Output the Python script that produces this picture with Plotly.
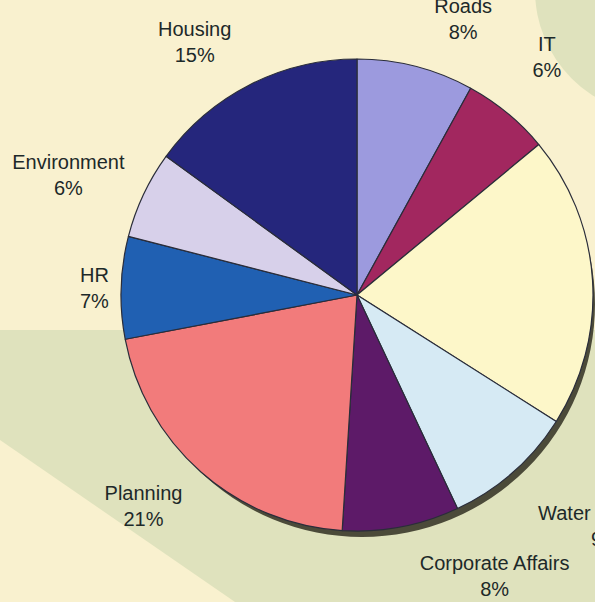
import plotly.graph_objects as go

# ---- data ----
labels = ["Roads", "IT", "Finance", "Water Services", "Corporate Affairs",
          "Planning", "HR", "Environment", "Housing"]
values = [8, 6, 20, 9, 8, 21, 7, 6, 15]
colors = ["#9c9ade", "#a2275f", "#fdf7c9", "#d6eaf4", "#5d1a68",
          "#f27b7b", "#2060b2", "#d7d0ea", "#25267c"]

W, H = 595, 602
CREAM = "#f9f1cf"
GREEN = "#dfe2bd"

# label layout: labels above the pie get trailing blank lines, labels below
# leading ones, so they sit a little further from the rim; the Finance label
# lies outside the visible frame in the reference
BASE = "%{label}<br>%{value}%"
UP = BASE + "<br> "
UP2 = BASE + "<br> <br> "
DOWN = " <br>" + BASE
DOWN2 = " <br> <br>" + BASE
templates = [UP, UP2, "", DOWN2, DOWN, DOWN, BASE, UP, UP]
# labels are split over two text layers so neighbouring labels are not shifted
groups = [0, 1, 0, 0, 1, 0, 1, 0, 1]

MAIN_DOMAIN = dict(x=[121 / W, 593 / W], y=[0.1179, 0.9020])


def px(x, y):
    """pixel (from top-left) -> paper coords"""
    return x / W, 1 - y / H


def path(points):
    s = ""
    for i, (x, y) in enumerate(points):
        a, b = px(x, y)
        s += ("M" if i == 0 else "L") + f" {a:.4f},{b:.4f} "
    return s + "Z"


shapes = [
    dict(type="path", xref="paper", yref="paper", layer="below",
         path=path([(0, 330), (595, 330), (595, 602), (235, 602), (0, 440)]),
         fillcolor=GREEN, line=dict(width=0)),
    dict(type="circle", xref="paper", yref="paper", layer="below",
         x0=(660 - 125) / W, x1=(660 + 125) / W,
         y0=1 - (-10 + 125) / H, y1=1 - (-10 - 125) / H,
         fillcolor=GREEN, line=dict(width=0)),
]

fig = go.Figure()

# drop shadow
fig.add_trace(go.Pie(
    values=[1], labels=["shadow"], sort=False,
    marker=dict(colors=["#4b4a39"], line=dict(width=0)),
    textinfo="none", hoverinfo="skip", showlegend=False, automargin=False,
    domain=dict(x=[129 / W, 1.0], y=[0.1080, 0.8821]),
))

# the slices
fig.add_trace(go.Pie(
    labels=labels, values=values, sort=False, direction="clockwise", rotation=0,
    marker=dict(colors=colors, line=dict(color="#2a2d3a", width=1.2)),
    textinfo="none", automargin=False, showlegend=False,
    domain=MAIN_DOMAIN,
))

# outside labels (same geometry, transparent slices)
for g in (0, 1):
    fig.add_trace(go.Pie(
        labels=labels, values=values, sort=False, direction="clockwise", rotation=0,
        marker=dict(colors=["rgba(0,0,0,0)"] * len(values), line=dict(width=0)),
        texttemplate=[t if grp == g else "" for t, grp in zip(templates, groups)],
        textposition="outside", automargin=False, hoverinfo="skip",
        outsidetextfont=dict(family="Liberation Sans, Arial, sans-serif", size=20,
                             color="#1d2929"),
        showlegend=False,
        domain=MAIN_DOMAIN,
    ))

fig.update_layout(
    width=W, height=H, autosize=False,
    margin=dict(l=0, r=0, t=0, b=0, autoexpand=False),
    paper_bgcolor=CREAM, plot_bgcolor=CREAM,
    shapes=shapes,
)

fig.write_html("out.html", config={"displayModeBar": False},
               post_script="document.body.style.margin='0';document.body.style.overflow='hidden';")
